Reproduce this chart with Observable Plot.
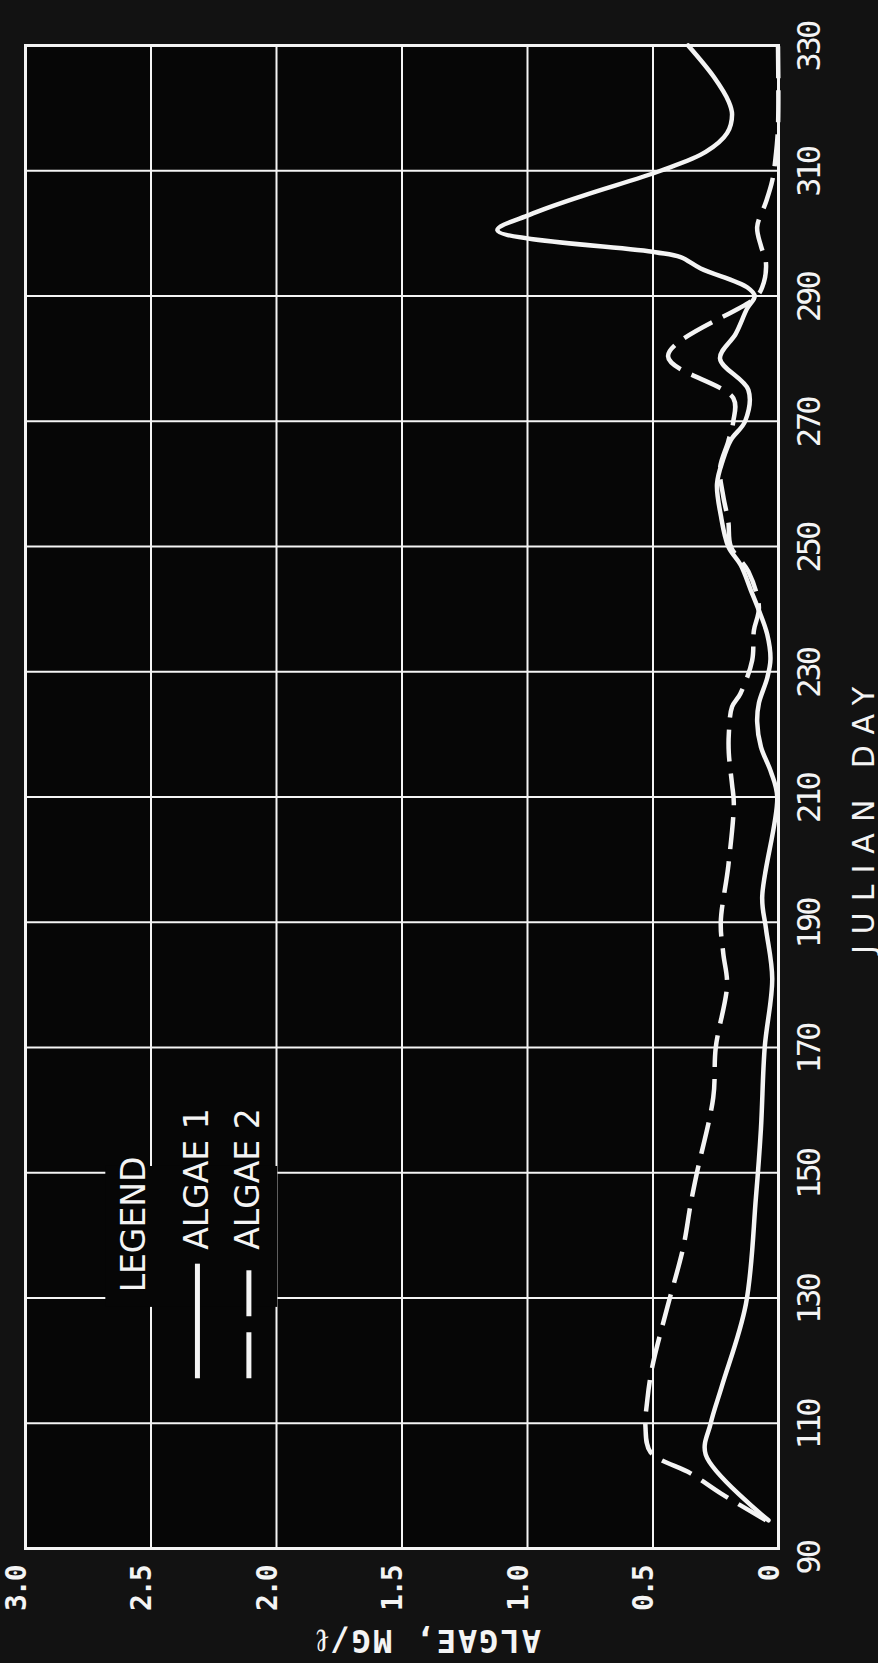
<!DOCTYPE html>
<html>
<head>
<meta charset="utf-8">
<script src="https://cdn.jsdelivr.net/npm/d3@7"></script>
<script src="https://cdn.jsdelivr.net/npm/@observablehq/plot@0.6"></script>
<style>
  html, body { margin: 0; padding: 0; background: #121212; }
  #chart { width: 878px; height: 1663px; }
  #chart svg { display: block; }
</style>
</head>
<body>
<div id="chart"></div>
<script>
// ---- data ----
const dayTicks = [90, 110, 130, 150, 170, 190, 210, 230, 250, 270, 290, 310, 330];
const valueTicks = [0, 0.5, 1.0, 1.5, 2.0, 2.5, 3.0];
const valueTickLabels = ["0", "0.5", "1.0", "1.5", "2.0", "2.5", "3.0"];
const seriesNames = ["ALGAE 1", "ALGAE 2"];
const xTitle = "JULIAN DAY";
const yTitle = "ALGAE, MG/\u2113";
const legendTitle = "LEGEND";

const algae1Days = [94.5, 105, 110, 116, 129, 146, 157, 170, 181, 189, 194, 210, 214, 218, 222, 225, 229, 232, 236, 240, 243, 247, 250, 255, 260, 264, 267, 270, 275, 280, 284, 288, 290, 291.4, 294.4, 296.2, 297, 300.5, 303, 306, 310, 313, 316, 319, 321, 325, 330];
const algae1Values = [0.04, 0.29, 0.27, 0.225, 0.13, 0.09, 0.07, 0.055, 0.025, 0.05, 0.065, 0.005, 0.03, 0.07, 0.085, 0.078, 0.045, 0.032, 0.045, 0.08, 0.11, 0.15, 0.2, 0.23, 0.245, 0.22, 0.19, 0.133, 0.12, 0.233, 0.17, 0.125, 0.095, 0.125, 0.31, 0.39, 0.49, 1.12, 0.99, 0.78, 0.47, 0.29, 0.205, 0.185, 0.198, 0.258, 0.36];

const algae2Days = [94.5, 98.8, 102, 105.4, 109.4, 113.6, 119, 128.5, 138, 145, 150, 162, 170, 180, 185, 190, 199, 209, 212, 217, 220, 224.4, 226.5, 231.8, 236.6, 240.3, 246, 250, 254, 258, 262.5, 266.8, 270, 273.7, 280.4, 289.7, 291.4, 295.3, 298, 301, 305, 308.4, 312, 317, 330];
const algae2Values = [0.05, 0.23, 0.35, 0.51, 0.53, 0.523, 0.503, 0.443, 0.38, 0.35, 0.325, 0.26, 0.25, 0.205, 0.22, 0.23, 0.2, 0.178, 0.185, 0.198, 0.198, 0.185, 0.152, 0.105, 0.098, 0.078, 0.12, 0.19, 0.2, 0.22, 0.233, 0.2, 0.18, 0.18, 0.44, 0.093, 0.065, 0.05, 0.07, 0.085, 0.05, 0.025, 0.012, 0.002, 0.002];

// ---- tables built from the arrays ----
const algae1 = algae1Days.map((d, i) => ({day: d, value: algae1Values[i]}));
const algae2 = algae2Days.map((d, i) => ({day: d, value: algae2Values[i]}));

// ---- layout (legend placement in data units) ----
const legendLayout = {
  box: {x1: 2.68, x2: 1.995, y1: 128.5, y2: 151},
  titleX: 2.566, titleY: 130.9,
  itemX: [2.315, 2.11], textY: 137.7, sampleY1: 117.1, sampleY2: 135.4
};

const WHITE = "#f4f4f4";
const INNER = "#060606";
const OUTER = "#121212";

const plot = Plot.plot({
  width: 878,
  height: 1663,
  marginLeft: 25,
  marginRight: 100,
  marginTop: 45,
  marginBottom: 115,
  style: {background: OUTER, color: WHITE, overflow: "visible"},
  x: {domain: [3, 0], axis: null},
  y: {domain: [90, 330], axis: null},
  marks: [
    Plot.frame({fill: INNER, stroke: "none"}),
    Plot.gridX(valueTicks, {stroke: WHITE, strokeOpacity: 1, strokeWidth: 2}),
    Plot.gridY(dayTicks, {stroke: WHITE, strokeOpacity: 1, strokeWidth: 2}),
    // legend background box
    Plot.rect([legendLayout.box], {x1: "x1", x2: "x2", y1: "y1", y2: "y2", fill: INNER}),
    Plot.frame({stroke: WHITE, strokeWidth: 3}),
    // data
    Plot.line(algae1, {x: "value", y: "day", stroke: WHITE, strokeWidth: 4.5, curve: "catmull-rom", strokeLinejoin: "round", strokeLinecap: "round"}),
    Plot.line(algae2, {x: "value", y: "day", stroke: WHITE, strokeWidth: 4.5, curve: "catmull-rom", strokeDasharray: "32,12", strokeLinecap: "butt"}),
    // value tick labels (bottom, reading upward)
    Plot.text(valueTicks, {x: d => d, text: (d, i) => valueTickLabels[i], frameAnchor: "bottom", dy: 18, rotate: -90, textAnchor: "end", fill: WHITE, fontSize: 28, fontWeight: "bold", fontFamily: "DejaVu Sans Mono"}),
    // day tick labels (right, reading upward)
    Plot.text(dayTicks, {y: d => d, text: d => String(d), frameAnchor: "right", dx: 31, dy: 26, rotate: -90, textAnchor: "start", fill: WHITE, fontSize: 32, fontFamily: "DejaVu Sans Mono"}),
    // axis titles
    Plot.text([xTitle], {text: d => d, frameAnchor: "right", dx: 86, dy: 157, rotate: -90, textAnchor: "start", fill: WHITE, fontSize: 30, fontFamily: "DejaVu Sans"}),
    Plot.text([yTitle], {text: d => d, frameAnchor: "bottom", dx: 139, dy: 81, rotate: 180, textAnchor: "start", fill: WHITE, fontSize: 32, fontWeight: "bold", fontFamily: "DejaVu Sans Mono"}),
    // legend
    Plot.text([legendTitle], {x: () => legendLayout.titleX, y: () => legendLayout.titleY, text: d => d, rotate: -90, textAnchor: "start", fill: WHITE, fontSize: 33, fontFamily: "DejaVu Sans"}),
    Plot.text(seriesNames, {x: (d, i) => legendLayout.itemX[i], y: () => legendLayout.textY, text: d => d, rotate: -90, textAnchor: "start", fill: WHITE, fontSize: 33, fontFamily: "DejaVu Sans"}),
    Plot.ruleX([seriesNames[0]], {x: () => legendLayout.itemX[0], y1: () => legendLayout.sampleY1, y2: () => legendLayout.sampleY2, stroke: WHITE, strokeWidth: 5}),
    Plot.ruleX([seriesNames[1]], {x: () => legendLayout.itemX[1], y1: () => legendLayout.sampleY1, y2: () => legendLayout.sampleY2, stroke: WHITE, strokeWidth: 5, strokeDasharray: "46,16"})
  ]
});

// letter spacing tweaks (Plot has no letterSpacing option)
const dayLabelSet = new Set(dayTicks.map(String));
const valueLabelSet = new Set(valueTickLabels);
d3.select(plot).selectAll("text").each(function () {
  const t = this.textContent;
  if (t === xTitle) this.style.letterSpacing = "11px";
  else if (t === yTitle) this.style.letterSpacing = "2px";
  else if (dayLabelSet.has(t)) this.style.letterSpacing = "-3px";
  else if (valueLabelSet.has(t)) this.style.letterSpacing = "-2px";
});

document.getElementById("chart").appendChild(plot);
</script>
</body>
</html>
